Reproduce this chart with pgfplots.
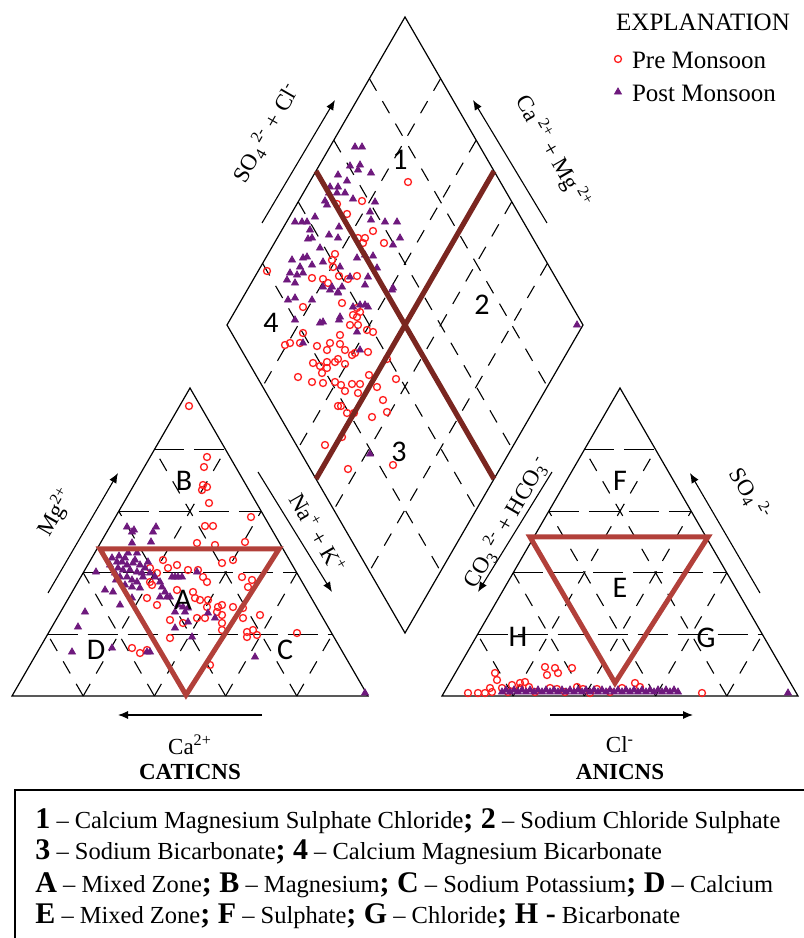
\documentclass[border=0pt]{standalone}
\usepackage{pgfplots}
\pgfplotsset{compat=1.18}
\usepackage{fontspec}
\setmainfont{Liberation Serif}
\newfontfamily\tnr{Liberation Serif}
\newfontfamily\calib{Carlito}
\usetikzlibrary{arrows.meta}
\definecolor{pre}{RGB}{255,30,30}
\definecolor{post}{RGB}{110,25,125}
\definecolor{dline}{RGB}{122,38,32}
\definecolor{tline}{RGB}{178,64,58}
\begin{document}
\begin{tikzpicture}
% ---------- static frame (1 unit = 1 px of the reference, y downwards)
\begin{scope}[x=0.5pt,y=-0.5pt,yshift=469pt]
\tikzset{hd/.style={line width=0.55pt,dash pattern=on 15pt off 5pt},
         sd/.style={line width=0.55pt,dash pattern=on 7pt off 6pt},
         ar/.style={line width=0.55pt,-{Latex[length=5pt,width=4pt]}}}
% triangles
\foreach \x in {12,442}{
  \draw[line width=0.6pt] (\x,696)--(\x+356,696)--(\x+178,388)--cycle;
  \foreach \k in {0.2,0.4,0.6,0.8}{
    \draw[hd] ({\x+178*\k},{696-308*\k}) -- ({\x+356-178*\k},{696-308*\k});
    \draw[sd] ({\x+356*\k},696) -- ({\x+356*\k+178*(1-\k)},{696-308*(1-\k)});
    \draw[sd] ({\x+356*\k},696) -- ({\x+178*\k},{696-308*\k});
  }
}
% diamond
\draw[line width=0.6pt] (405,17)--(583,325)--(405,633)--(227,325)--cycle;
\foreach \k in {0.2,0.4,0.6,0.8}{
  \draw[sd] ({405+178*\k},{17+308*\k}) -- ({227+178*\k},{325+308*\k});
  \draw[sd] ({405-178*\k},{17+308*\k}) -- ({583-178*\k},{325+308*\k});
}
% arrows
\draw[ar] (48,593)--(118,473);
\draw[ar] (258,472)--(332,592);
\draw[ar] (262,715)--(118,715);
\draw[ar] (552,472)--(478,592);
\draw[ar] (760,593)--(690,473);
\draw[ar] (550,715)--(693,715);
\draw[ar] (262,223)--(335,100);
\draw[ar] (547,223)--(473,100);
% bottom box
\draw[line width=0.8pt] (15,950)--(15,790)--(810,790);
\end{scope}
% ---------- data
\begin{axis}[scale only axis, width=402pt, height=469pt,
  xmin=0, xmax=804, ymin=0, ymax=938, y dir=reverse,
  hide axis, clip=false]
\addplot[only marks, mark=o, color=pre, mark size=1.75pt, mark options={line width=0.65pt}] coordinates {
(408,182)(337,204)(347,214)(362,201)(373,231)(358,238)(365,238)(363,243)(384,243)(335,254)(332,260)(333,267)(339,276)(348,279)(357,276)(312,278)(323,279)(328,283)(267,271)
(303,307)(342,303)(357,308)(360,312)(353,315)(357,317)(350,325)(358,325)(367,330)(373,332)(303,333)(340,335)(285,345)(290,343)(300,343)(317,346)(327,350)(330,343)(340,344)(345,350)(352,355)(355,353)(368,352)(313,363)(320,366)(327,368)(322,373)(327,362)(335,362)(338,359)(345,364)(387,359)(298,377)(312,382)(323,383)(335,382)(341,385)(345,391)(352,384)(360,384)(369,375)(377,387)(396,379)(358,393)(383,400)(338,406)(341,406)(354,413)(347,413)(372,417)(387,412)(342,437)(325,445)(348,469)(393,465)
(189,406)(207,457)(204,467)(203,485)(207,487)(202,490)(209,503)(251,517)(205,526)(213,526)
(197,543)(215,545)(245,542)(163,560)(177,565)(168,568)(150,568)(157,573)(188,570)(198,570)(203,577)(207,582)(222,563)(233,560)(242,577)(252,580)(248,587)(150,582)(152,585)(177,590)(193,592)(195,598)(200,600)(208,600)(207,607)(218,607)(222,605)(233,607)(243,608)(217,612)(222,615)(197,618)(205,618)(170,620)(222,623)(222,630)(243,618)(260,615)(147,598)(157,605)(183,623)(170,638)(247,632)(253,630)(247,637)(257,635)(297,633)(132,648)(140,653)(147,650)(210,665)
(468,693)(478,693)(485,693)(492,692)(495,673)(497,680)(502,688)(512,685)(520,683)(525,682)(520,688)(529,687)(545,667)(555,668)(547,675)(558,673)(572,668)(550,688)(557,689)(577,687)(583,689)(597,689)(622,688)(635,683)(640,687)(702,693)(490,688)(508,692)(535,692)(565,692)(590,693)(610,692)
};
\addplot[only marks, mark=triangle*, color=post, fill=post, mark size=2pt, mark options={line width=0.4pt}] coordinates {
(355,147)(362,147)(350,166)(360,165)(358,170)(371,173)(338,175)(347,181)(330,187)(338,187)(329,193)(337,193)(345,193)(353,199)(375,202)(325,201)(327,205)(370,212)(371,220)(295,222)(302,222)(307,222)(315,217)(310,230)(308,239)(312,238)(329,235)(338,238)(339,227)(385,222)(397,222)(400,238)(393,245)(320,248)(307,257)(303,258)(292,260)(300,267)(312,265)(323,262)(290,273)(297,275)(303,273)(287,280)(295,283)(357,258)(365,255)(373,256)(368,277)(377,268)(340,267)(342,287)(332,287)(323,287)(365,285)(393,288)(350,277)(338,293)
(288,300)(295,298)(312,300)(330,290)(338,292)(353,307)(360,305)(365,305)(368,307)(295,320)(323,322)(320,323)(339,320)(340,317)(357,332)(303,343)(360,350)(370,454)(392,290)(577,325)
(127,527)(134,530)(156,527)(132,532)(153,532)(132,543)(151,542)(137,553)(117,562)(122,562)(127,565)(118,568)(123,570)(130,570)(133,563)(137,572)(142,573)(115,573)(120,577)(127,577)(132,580)(137,582)(143,577)(150,573)(125,585)(132,587)(140,588)(155,577)(160,582)(162,587)(165,592)(167,597)(160,597)(172,577)(175,577)(178,577)(182,577)(170,597)(178,605)(183,607)(188,608)(185,612)(175,612)(105,590)(113,592)(96,572)(120,605)(85,612)(78,627)(72,652)(112,648)(147,652)(150,652)(175,628)(192,637)(208,613)(215,618)(188,622)(255,657)(197,572)(132,598)(365,693)
(112,558)(119,556)(125,558)(128,553)(135,560)(140,565)(145,568)(148,562)(110,565)(116,580)
(502,692)(506,690)(510,692)(514,690)(518,692)(522,690)(526,692)(530,690)(534,692)(538,690)(542,692)(546,690)(550,692)(554,690)(558,692)(562,690)(566,692)(570,690)(574,692)(578,690)(582,692)(586,690)(590,692)(594,690)(598,692)(602,690)(606,692)(610,690)(614,692)(618,690)(622,692)(626,690)(630,692)(634,690)(638,692)(642,690)(646,692)(650,690)(654,692)(658,690)(662,692)(666,690)(670,692)(674,690)(678,692)(788,693)
};
% legend markers
\addplot[only marks, mark=o, color=pre, mark size=1.75pt, mark options={line width=0.65pt}] coordinates {(618,59)};
\addplot[only marks, mark=triangle*, color=post, fill=post, mark size=2pt] coordinates {(618,92)};
\end{axis}
% ---------- overlays
\begin{scope}[x=0.5pt,y=-0.5pt,yshift=469pt]
\draw[dline, line width=2.6pt] (316,171)--(494,479);
\draw[dline, line width=2.6pt] (316,479)--(494,171);
\draw[tline, line width=2.5pt, line join=miter] (100,549)--(279,549)--(186,695)--cycle;
\draw[tline, line width=2.5pt, line join=miter] (530,537)--(708,537)--(615,683)--cycle;
% region labels
\begin{scope}[font=\calib\fontsize{15}{15}\selectfont]
\node at (400,160) {1};
\node at (482,305) {2};
\node at (399,452) {3};
\node at (271,323) {4};
\node at (183,600) {A};
\node at (184,481) {B};
\node at (285,650) {C};
\node at (96,650) {D};
\node at (620,588) {E};
\node at (620,481) {F};
\node at (706,638) {G};
\node at (518,637) {H};
\end{scope}
% axis labels
\begin{scope}[font=\tnr\fontsize{11.5}{12}\selectfont, inner sep=1pt]
\node[rotate=60] at (56,512) {Mg\textsuperscript{2+}};
\node[rotate=-60] at (318,533) {Na\textsuperscript{+} + K\textsuperscript{+}};
\node[rotate=60] at (266,133) {SO\textsubscript{4}\textsuperscript{ 2-} + Cl\textsuperscript{-}};
\node[rotate=-60] at (553,152) {Ca\textsuperscript{ 2+} + Mg\textsuperscript{ 2+}};
\node[rotate=60] at (506,522) {CO\textsubscript{3}\textsuperscript{ 2-} + HCO\textsubscript{3}\textsuperscript{-}};
\node[rotate=-60] at (750,494) {SO\textsubscript{4}\textsuperscript{ 2-}};
\node at (190,745) {Ca\textsuperscript{2+}};
\node at (620,745) {Cl\textsuperscript{-}};
\node at (190,772) {\bfseries CATICNS};
\node at (620,772) {\bfseries ANICNS};
\end{scope}
% legend
\begin{scope}[font=\tnr\fontsize{12.5}{13}\selectfont]
\node at (703,22) {EXPLANATION};
\node[anchor=west] at (625,60) {Pre Monsoon};
\node[anchor=west] at (625,93) {Post Monsoon};
\end{scope}
% bottom explanation
\begin{scope}[font=\tnr\fontsize{12.25}{13}\selectfont]
\newcommand\bb[1]{{\fontsize{15}{15}\selectfont\bfseries #1}}
\node[anchor=base west, inner sep=0pt] at (35,829) {\bb{1} – Calcium Magnesium Sulphate Chloride\bb{; 2} – Sodium Chloride Sulphate};
\node[anchor=base west, inner sep=0pt] at (35,860) {\bb{3} – Sodium Bicarbonate\bb{; 4} – Calcium Magnesium Bicarbonate};
\node[anchor=base west, inner sep=0pt] at (35,892) {\bb{A} – Mixed Zone\bb{; B} – Magnesium\bb{; C} – Sodium Potassium\bb{; D} – Calcium};
\node[anchor=base west, inner sep=0pt] at (35,923) {\bb{E} – Mixed Zone\bb{; F} – Sulphate\bb{; G} – Chloride\bb{; H -} Bicarbonate};
\end{scope}
\end{scope}
\pgfresetboundingbox
\path[use as bounding box] (0,0) rectangle (402pt,469pt);
\end{tikzpicture}
\end{document}
